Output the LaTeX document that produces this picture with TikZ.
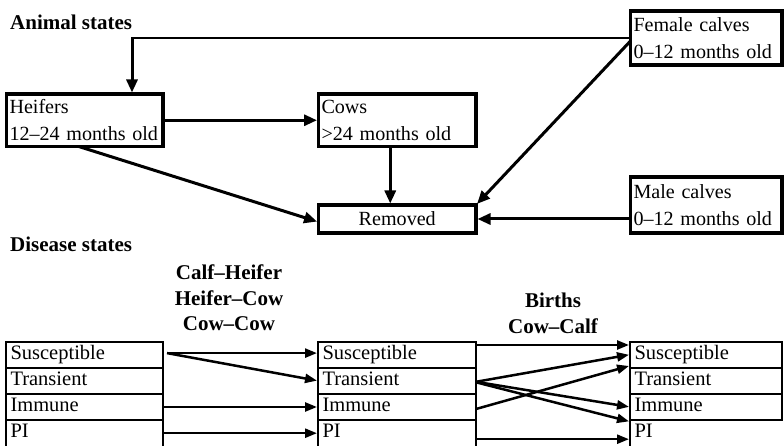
\documentclass[tikz,border=0pt]{standalone}
\usepackage{fontspec}
\setmainfont{Liberation Serif}
\usetikzlibrary{arrows.meta}
\newcommand{\fsreg}{\fontsize{20.5}{26.5}\selectfont}
\newcommand{\fsbox}{\fontsize{20.1}{26.5}\selectfont}
\newcommand{\fsbold}{\fontsize{21}{25.5}\selectfont\bfseries}
\tikzset{
  abox/.style={draw, line width=3.5pt, rectangle, outer sep=0pt, inner xsep=3pt, inner ysep=0pt, align=left, anchor=north west, font=\fsbox},
  cellbox/.style={draw, line width=2pt, rectangle, outer sep=0pt, inner xsep=4.5pt, inner ysep=0pt, align=left, anchor=north west, font=\fsreg, text height=14pt, text depth=4.5pt, minimum height=26.2pt},
  opencell/.style={cellbox, draw=none},
  lab/.style={inner sep=0pt, align=center, font=\fsbold},
  title/.style={inner sep=0pt, anchor=base west, font=\fsbold},
  arrA/.style={line width=3pt, -{Triangle[length=13pt,width=11pt]}, shorten >=1.5pt},
  arrB/.style={line width=2.5pt, -{Triangle[length=12pt,width=9pt]}, shorten >=1pt},
  tline/.style={line width=2pt},
}
\begin{document}
\begin{tikzpicture}[x=1pt,y=-1pt]
\useasboundingbox (0,0) rectangle (784,446);

% titles
\node[title] (t1) at (10,30) {Animal states};
\node[title] (t2) at (10,252) {Disease states};

% animal state boxes
\node[abox, text width=150.5pt, minimum height=52.5pt] (heif) at (6.5,94) {\mbox{Heifers}\\\mbox{12–24 months old}};
\node[abox, text width=151.5pt, minimum height=52.5pt] (cows) at (318.5,94) {\mbox{Cows}\\\mbox{>24 months old}};
\node[abox, text width=151.5pt, minimum height=28pt, align=center] (rem) at (318.5,205) {Removed};
\node[abox, text width=145.5pt, minimum height=54pt] (fem) at (630.5,11) {\mbox{Female calves}\\\mbox{0–12 months old}};
\node[abox, text width=145.5pt, minimum height=56pt] (male) at (630.5,177) {\mbox{Male calves}\\\mbox{0–12 months old}};

\coordinate (hx) at (132,0);

% animal state connectors
\draw[line width=1.5pt] (fem.west) -- (fem.west -| hx);
\draw[arrA] ([yshift=0.75pt]fem.west -| hx) -- (heif.north -| hx);
\draw[arrA] ([yshift=-3pt]fem.west) -- (rem.north east);
\draw[arrA] (male.west |- rem.east) -- (rem.east);
\draw[arrA] (heif.east) -- (cows.west);
\draw[arrA] ([xshift=-7pt]cows.south) -- ([xshift=-7pt]rem.north);
\draw[arrA] ([xshift=-6pt]heif.south) -- ([yshift=-3pt]rem.west);

% flow labels
\node[lab, anchor=north] (lab1) at (229,265) {Calf–Heifer\\Heifer–Cow\\Cow–Cow};
\node[lab, anchor=north] (lab2) at (553,293) {Births\\Cow–Calf};

% left column
\node[cellbox, text width=148pt] (lS) at (6,341.5) {Susceptible};
\node[cellbox, text width=148pt] (lT) at (6,367.7) {Transient};
\node[cellbox, text width=148pt] (lI) at (6,393.9) {Immune};
\node[opencell, text width=148pt] (lP) at (6,420.1) {PI};
% middle column
\node[cellbox, text width=149pt] (mS) at (318,341.5) {Susceptible};
\node[cellbox, text width=149pt] (mT) at (318,367.7) {Transient};
\node[cellbox, text width=149pt] (mI) at (318,393.9) {Immune};
\node[opencell, text width=149pt] (mP) at (318,420.1) {PI};
% right column
\node[cellbox, text width=143pt] (rS) at (630,341.5) {Susceptible};
\node[cellbox, text width=143pt] (rT) at (630,367.7) {Transient};
\node[cellbox, text width=143pt] (rI) at (630,393.9) {Immune};
\node[opencell, text width=143pt] (rP) at (630,420.1) {PI};

% open borders of the last row
\draw[tline] (lP.north west) -- ([yshift=-3pt]lP.south west);
\draw[tline] (lP.north east) -- ([yshift=-3pt]lP.south east);
\draw[tline] (mP.north west) -- ([yshift=-3pt]mP.south west);
\draw[tline] (mP.north east) -- ([yshift=-3pt]mP.south east);
\draw[tline] (rP.north west) -- ([yshift=-3pt]rP.south west);

% disease connectors, left to middle
\draw[arrB] ([xshift=4pt,yshift=1.5pt]lS.east) -- ([yshift=1.5pt]mS.west);
\draw[arrB] ([xshift=4pt,yshift=1.5pt]lS.east) -- (mT.west);
\draw[arrB] (lI.east) -- (mI.west);
\draw[arrB] (lP.east) -- (mP.west);

% disease connectors, middle to right
\draw[arrB] ([yshift=-3.5pt]mS.north east) -- ([yshift=-3.5pt]rS.north west);
\draw[arrB] ([yshift=-1pt]mT.east) -- (rS.west);
\draw[arrB] ([yshift=-2pt]mI.east) -- ([yshift=2pt]rS.south west);
\draw[arrB] ([yshift=-1pt]mT.east) -- (rI.west);
\draw[arrB] ([yshift=-1.5pt]mT.east) -- ([yshift=-1.5pt]rP.north west);
\draw[arrB] ([yshift=-6pt]mP.east) -- ([yshift=-6pt]rP.west);
\end{tikzpicture}
\end{document}
